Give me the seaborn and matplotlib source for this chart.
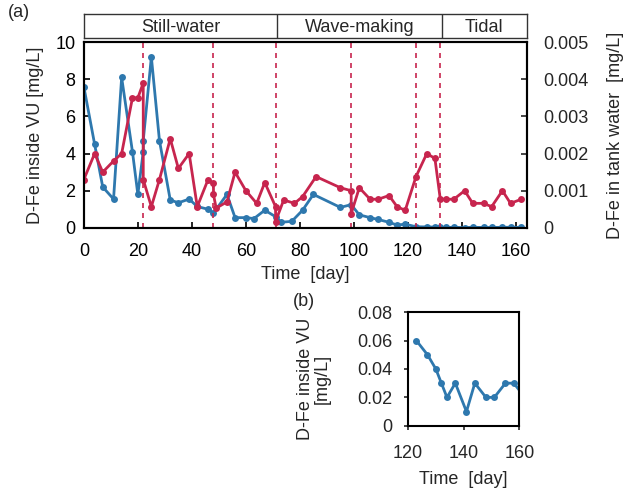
import matplotlib
matplotlib.use("Agg")
import matplotlib.pyplot as plt
import numpy as np
import seaborn as sns

# D-Fe inside VU [mg/L] (left axis)
vu_day = [0, 4, 7, 11, 14, 18, 20, 22, 22, 25, 28, 32, 35, 39, 42, 46, 48, 53, 56, 60,
          63, 67, 71, 73, 77, 81, 85, 95, 99, 102, 106, 109, 113, 116, 119,
          123, 127, 130, 132, 134, 137, 141, 144, 148, 151, 155, 158, 162]
vu_fe = [7.6, 4.5, 2.2, 1.55, 8.1, 4.1, 1.8, 4.1, 4.7, 9.2, 4.7, 1.5, 1.35, 1.55, 1.15, 1.0, 0.8, 1.8, 0.55, 0.55,
         0.5, 0.95, 0.6, 0.3, 0.35, 0.95, 1.8, 1.1, 1.25, 0.7, 0.55, 0.45, 0.3, 0.15, 0.2,
         0.06, 0.05, 0.04, 0.03, 0.02, 0.03, 0.01, 0.03, 0.02, 0.02, 0.03, 0.03, 0.02]

# D-Fe in tank water [mg/L] (right axis)
tank_day = [0, 4, 7, 11, 14, 18, 20, 22, 22, 25, 28, 32, 35, 39, 42, 46, 48, 48, 49, 53,
            56, 60, 64, 67, 71, 71, 74, 78, 81, 86, 95, 99, 99, 102, 106, 109, 113, 116, 119,
            123, 127, 130, 132, 134, 137, 141, 144, 148, 151, 155, 158, 162]
tank_fe = [0.0013, 0.002, 0.0015, 0.0018, 0.002, 0.0035, 0.0035, 0.0039, 0.0013, 0.00057,
           0.0013, 0.0024, 0.0016, 0.002, 0.00057, 0.0013, 0.0012, 0.0009, 0.00053, 0.0007,
           0.0015, 0.001, 0.00066, 0.00122, 0.00057, 0.00017, 0.00075, 0.00066, 0.00084, 0.00138,
           0.00108, 0.001, 0.00038, 0.00108, 0.00077, 0.00077, 0.00087, 0.00057, 0.00047,
           0.00138, 0.002, 0.00187, 0.00077, 0.00077, 0.00077, 0.001, 0.00066, 0.00066, 0.00057,
           0.001, 0.00066, 0.00077]

events = [22, 48, 71, 99, 123, 132]
phases = ["Still-water", "Wave-making", "Tidal"]
phase_edges = [0, 71.5, 132.5, 164]

blue = "#2E78AE"
red = "#C7254E"
fs = 13

sns.set_style("ticks")
plt.rcParams["font.family"] = ["Liberation Sans", "DejaVu Sans"]
plt.rcParams["font.size"] = fs

fig = plt.figure(figsize=(6.4, 4.9), dpi=100)

# main panel (a)
ax = fig.add_axes([0.131, 0.535, 0.692, 0.379])
sns.lineplot(x=vu_day, y=vu_fe, ax=ax, color=blue, marker="o", markersize=5,
             markeredgewidth=0, linewidth=2, estimator=None, sort=False)
ax.set_xlim(0, 164)
ax.set_ylim(0, 10)
ax.set_xticks(np.arange(0, 161, 20))
ax.set_yticks(np.arange(0, 11, 2))
ax.set_xlabel("Time  [day]", labelpad=4)
ax.set_ylabel("D-Fe inside VU [mg/L]", labelpad=8)
ax.tick_params(direction="in", length=4, width=1.2, colors="black", labelsize=fs)
ax.tick_params(axis="x", pad=11)
ax.tick_params(axis="y", pad=6)

ax2 = ax.twinx()
sns.lineplot(x=tank_day, y=tank_fe, ax=ax2, color=red, marker="o", markersize=5,
             markeredgewidth=0, linewidth=2, estimator=None, sort=False)
ax2.set_ylim(0, 0.005)
ax2.set_yticks([0, 0.001, 0.002, 0.003, 0.004, 0.005])
ax2.set_yticklabels(["0", "0.001", "0.002", "0.003", "0.004", "0.005"])
ax2.set_ylabel("D-Fe in tank water  [mg/L]", labelpad=13)
ax2.tick_params(direction="in", length=4, width=1.2, labelsize=fs, pad=12)

for d in events:
    ax.axvline(d, color=red, linestyle=(0, (3, 3)), linewidth=1.2)

for a in (ax, ax2):
    for s in a.spines.values():
        s.set_linewidth(1.5)
        s.set_color("black")

# phase bar on top
bar = fig.add_axes([0.131, 0.922, 0.692, 0.049])
bar.set_xlim(0, 164)
bar.set_ylim(0, 1)
bar.set_xticks([])
bar.set_yticks([])
for s in bar.spines.values():
    s.set_linewidth(1)
    s.set_color("#333333")
for e in phase_edges[1:-1]:
    bar.axvline(e, color="#333333", linewidth=1)
for name, lo, hi in zip(phases, phase_edges[:-1], phase_edges[1:]):
    bar.text((lo + hi) / 2, 0.45, name, ha="center", va="center", fontsize=fs)

fig.text(0.012, 0.975, "(a)", ha="left", va="center", fontsize=fs)

# inset panel (b)
bx = fig.add_axes([0.6375, 0.131, 0.174, 0.232])
ins_day = vu_day[35:]
ins_fe = vu_fe[35:]
sns.lineplot(x=ins_day, y=ins_fe, ax=bx, color=blue, marker="o", markersize=5,
             markeredgewidth=0, linewidth=2, estimator=None, sort=False)
bx.set_xlim(120, 160)
bx.set_ylim(0, 0.08)
bx.set_xticks([120, 140, 160])
bx.set_yticks([0, 0.02, 0.04, 0.06, 0.08])
bx.set_yticklabels(["0", "0.02", "0.04", "0.06", "0.08"])
bx.set_xlabel("Time  [day]", labelpad=6)
bx.set_ylabel("D-Fe inside VU\n[mg/L]", linespacing=1.0)
bx.yaxis.set_label_coords(-0.69, 0.41)
bx.tick_params(direction="out", length=3, width=1.2, labelsize=fs)
bx.tick_params(axis="x", pad=11)
bx.tick_params(axis="y", pad=8)
for s in bx.spines.values():
    s.set_linewidth(1.5)
    s.set_color("black")

fig.text(0.458, 0.385, "(b)", ha="left", va="center", fontsize=fs)

fig.savefig("out.png", dpi=100)
